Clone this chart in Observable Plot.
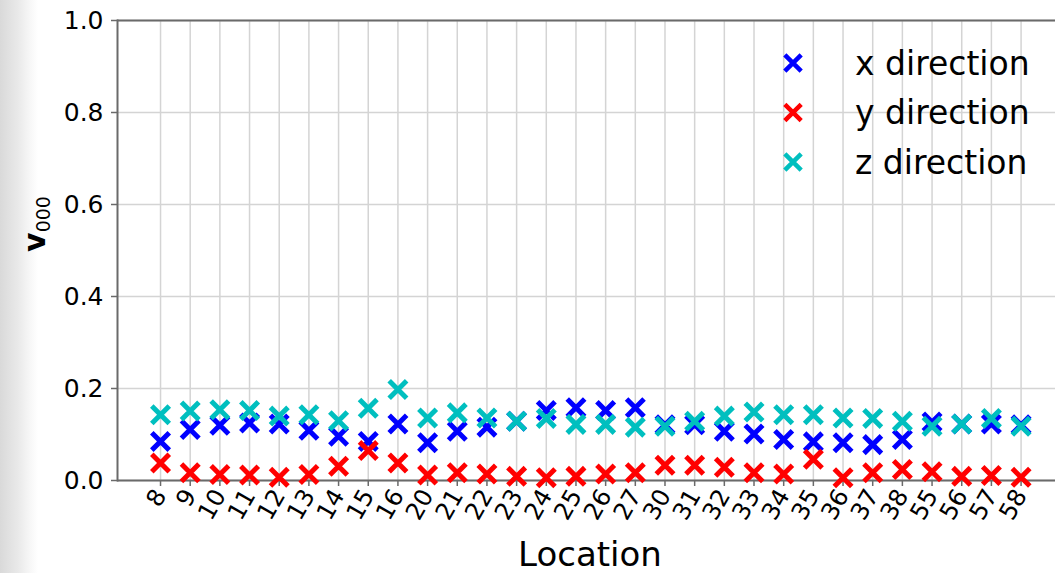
<!DOCTYPE html>
<html><head><meta charset="utf-8">
<script src="https://cdn.jsdelivr.net/npm/d3@7"></script>
<script src="https://cdn.jsdelivr.net/npm/@observablehq/plot@0.6"></script>
<style>
html,body{margin:0;padding:0;overflow:hidden;}
body{width:1055px;height:573px;background:linear-gradient(90deg,#d9d9d9 0px,#e9e9e9 18px,#f7f7f7 30px,#ffffff 38px);}
#chart svg{display:block;}
</style></head><body><div id="chart"></div>
<script>
const locations = ["8","9","10","11","12","13","14","15","16","20","21","22","23","24","25","26","27","30","31","32","33","34","35","36","37","38","55","56","57","58"];
const xDir = [0.085,0.111,0.120,0.125,0.123,0.109,0.096,0.085,0.123,0.082,0.107,0.116,0.129,0.152,0.158,0.152,0.158,0.121,0.121,0.107,0.101,0.089,0.084,0.082,0.078,0.089,0.127,0.123,0.123,0.121];
const yDir = [0.038,0.017,0.013,0.012,0.007,0.013,0.031,0.065,0.038,0.012,0.017,0.014,0.009,0.006,0.009,0.014,0.017,0.033,0.033,0.029,0.017,0.014,0.046,0.006,0.017,0.024,0.019,0.009,0.011,0.007];
const zDir = [0.143,0.151,0.154,0.152,0.140,0.143,0.130,0.157,0.198,0.136,0.147,0.136,0.129,0.135,0.122,0.122,0.116,0.118,0.129,0.140,0.149,0.143,0.143,0.136,0.135,0.129,0.118,0.123,0.135,0.118];
const seriesNames = ["x direction","y direction","z direction"];
const seriesColors = ["#0000ff","#ff0000","#00bfbf"];
const yTicks = [0,0.2,0.4,0.6,0.8,1.0];

// categorical positions (index along the x axis), labelled with the location names
const idx = locations.map((_, i) => i);
const rows = [];
[xDir, yDir, zDir].forEach((vals, si) => vals.forEach((v, i) => rows.push({i, loc: locations[i], v, series: seriesNames[si]})));

const spine = "#6a6a6a";
const gridC = "#d4d4d4";
const markR = 8, markW = 5;
const plot = Plot.plot({
  width: 1055, height: 573,
  marginLeft: 117, marginRight: 0, marginTop: 20, marginBottom: 93,
  style: {fontFamily: "DejaVu Sans", fontSize: "22px", background: "transparent", color: "black"},
  x: {type: "linear", domain: [-1.45, 30.16], label: null},
  y: {domain: [0, 1], label: null},
  color: {domain: seriesNames, range: seriesColors},
  marks: [
    Plot.gridX(idx, {stroke: gridC, strokeOpacity: 1, strokeWidth: 1.5}),
    Plot.gridY(yTicks, {stroke: gridC, strokeOpacity: 1, strokeWidth: 1.5}),
    Plot.axisY(yTicks, {tickFormat: d3.format(".1f"), tickSize: 6, tickPadding: 8, fontSize: 25, stroke: spine, fill: "black", strokeWidth: 1.5}),
    Plot.axisX(idx, {tickFormat: (i) => locations[i], tickRotate: -60, tickSize: 6, tickPadding: 5, fontSize: 24, stroke: spine, fill: "black", strokeWidth: 1.5}),
    Plot.frame({anchor: "left", stroke: spine, strokeWidth: 2}),
    Plot.ruleY([0], {stroke: spine, strokeWidth: 2}),
    Plot.ruleY([1], {stroke: spine, strokeWidth: 2}),
    Plot.dot(rows, {x: "i", y: "v", stroke: "series", symbol: "times", r: markR, strokeWidth: markW})
  ]
});
document.getElementById("chart").append(plot);

const svg = d3.select(plot);
// y label with subscript
const yl = svg.append("text")
  .attr("transform", "translate(45,224) rotate(-90)")
  .attr("text-anchor", "middle")
  .attr("fill", "black")
  .style("font-family", "DejaVu Sans");
yl.append("tspan").attr("font-weight", "bold").attr("font-size", 30).text("v");
yl.append("tspan").attr("font-size", 19).attr("dy", 5).text("000");

// x label
svg.append("text")
  .attr("x", 590).attr("y", 566)
  .attr("text-anchor", "middle")
  .attr("fill", "black")
  .style("font-family", "DejaVu Sans")
  .attr("font-size", 34)
  .text("Location");

// legend
const leg = svg.append("g");
seriesNames.forEach((name, i) => {
  const cy = 63 + i * 49.5;
  leg.append("path")
    .attr("transform", `translate(793,${cy})`)
    .attr("d", d3.symbol(d3.symbolTimes, Math.PI * 7.5 * 7.5)())
    .attr("fill", "none").attr("stroke", seriesColors[i]).attr("stroke-width", 4.5);
  leg.append("text")
    .attr("x", 855).attr("y", cy)
    .attr("dy", "0.35em")
    .attr("text-anchor", "start")
    .attr("fill", "black")
    .style("font-family", "DejaVu Sans")
    .attr("font-size", 33)
    .text(name);
});
</script>
</body></html>
